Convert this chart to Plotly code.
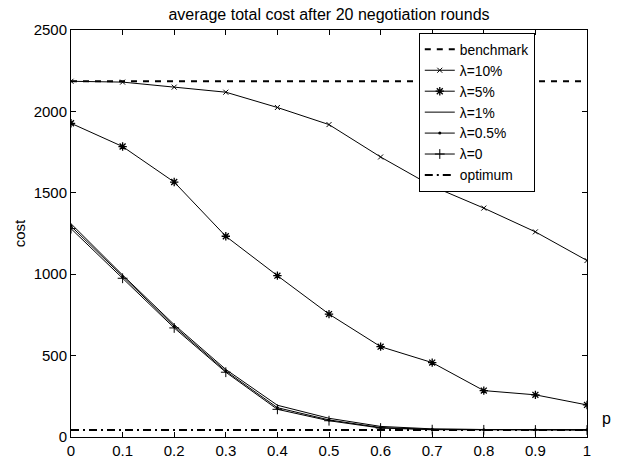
import plotly.graph_objects as go

p = [0, 0.1, 0.2, 0.3, 0.4, 0.5, 0.6, 0.7, 0.8, 0.9, 1.0]
benchmark = 2185
optimum = 43
lam10 = [2185, 2180, 2149, 2118, 2024, 1919, 1720, 1541, 1406, 1260, 1084]
lam5 = [1927, 1784, 1566, 1233, 991, 755, 555, 457, 285, 259, 197]
lam1 = [1310, 995, 690, 415, 195, 115, 65, 50, 46, 45, 45]
lam05 = [1295, 985, 680, 405, 180, 105, 58, 47, 45, 44, 44]
lam0 = [1280, 975, 670, 398, 170, 100, 55, 45, 44, 43, 43]
xticks = [0, 0.1, 0.2, 0.3, 0.4, 0.5, 0.6, 0.7, 0.8, 0.9, 1]
xticklabels = ["0", "0.1", "0.2", "0.3", "0.4", "0.5", "0.6", "0.7", "0.8", "0.9", "1"]
yticks = [0, 500, 1000, 1500, 2000, 2500]

FONT = "Liberation Sans, Arial, sans-serif"

fig = go.Figure()
fig.add_trace(go.Scatter(x=[0, 1], y=[benchmark, benchmark], mode="lines", name="benchmark",
                         line=dict(color="black", width=2, dash="6px,6px")))
fig.add_trace(go.Scatter(x=p, y=lam10, mode="lines+markers", name="λ=10%",
                         line=dict(color="black", width=1),
                         marker=dict(symbol="x-thin-open", size=5, color="black", line=dict(width=1, color="black"))))
fig.add_trace(go.Scatter(x=p, y=lam5, mode="lines+markers", name="λ=5%",
                         line=dict(color="black", width=1),
                         marker=dict(symbol="asterisk-open", size=7, color="black", line=dict(width=1.3, color="black"))))
fig.add_trace(go.Scatter(x=p, y=lam1, mode="lines", name="λ=1%",
                         line=dict(color="black", width=1)))
fig.add_trace(go.Scatter(x=p, y=lam05, mode="lines+markers", name="λ=0.5%",
                         line=dict(color="black", width=1),
                         marker=dict(symbol="circle", size=3, color="black")))
fig.add_trace(go.Scatter(x=p, y=lam0, mode="lines+markers", name="λ=0",
                         line=dict(color="black", width=1),
                         marker=dict(symbol="cross-thin-open", size=7, color="black", line=dict(width=1, color="black"))))
fig.add_trace(go.Scatter(x=[0, 1], y=[optimum, optimum], mode="lines", name="optimum",
                         line=dict(color="black", width=2, dash="8px,4px,2px,4px")))

axis_common = dict(showgrid=False, zeroline=False, showline=True, linecolor="black", linewidth=1,
                   mirror="allticks", ticks="inside", ticklen=5, tickcolor="black", automargin=False,
                   tickfont=dict(family=FONT, size=15, color="black"))

fig.update_layout(
    width=621, height=465,
    margin=dict(l=71, r=34, t=30, b=28, autoexpand=False),
    paper_bgcolor="white", plot_bgcolor="white",
    font=dict(family=FONT, size=15, color="black"),
    title=dict(text="average total cost after 20 negotiation rounds", xref="paper", x=0.5, xanchor="center",
               y=0.97, yanchor="middle", font=dict(size=16)),
    xaxis=dict(range=[0, 1], tickvals=xticks, ticktext=xticklabels, **axis_common),
    yaxis=dict(range=[0, 2500], tickvals=yticks, title=dict(text="cost", font=dict(size=15), standoff=4),
               **axis_common),
    showlegend=True,
    legend=dict(x=0.674, y=0.993, xanchor="left", yanchor="top", bgcolor="white",
                bordercolor="black", borderwidth=1, font=dict(size=13.8),
                tracegroupgap=0),
)
fig.add_annotation(text="p", xref="paper", yref="paper", x=1.025, y=0.02, xanchor="left",
                   yanchor="bottom", showarrow=False, font=dict(size=16))

fig.write_html("out.html")
